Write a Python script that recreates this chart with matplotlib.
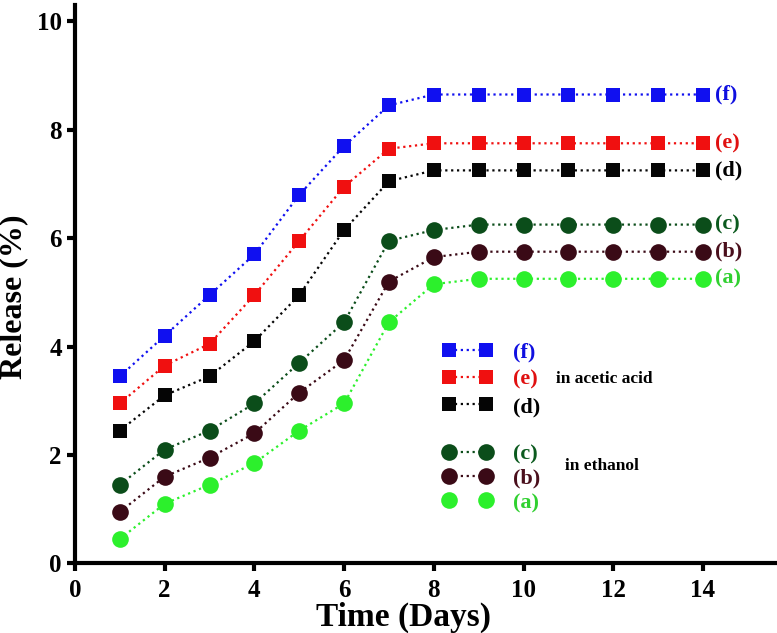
import matplotlib
matplotlib.use("Agg")
import matplotlib.pyplot as plt
from matplotlib.lines import Line2D

plt.rcParams.update({
    'font.family': 'Liberation Serif',
    'font.weight': 'bold',
    'axes.linewidth': 3.0,
    'xtick.major.width': 3.0,
    'ytick.major.width': 3.0,
    'xtick.major.size': 6,
    'ytick.major.size': 6,
})

days = [1, 2, 3, 4, 5, 6, 7, 8, 9, 10, 11, 12, 13, 14]

# acetic acid
rel_f = [3.45, 4.2, 4.95, 5.7, 6.8, 7.7, 8.45, 8.65, 8.65, 8.65, 8.65, 8.65, 8.65, 8.65]
rel_e = [2.95, 3.65, 4.05, 4.95, 5.95, 6.95, 7.65, 7.75, 7.75, 7.75, 7.75, 7.75, 7.75, 7.75]
rel_d = [2.45, 3.1, 3.45, 4.1, 4.95, 6.15, 7.05, 7.25, 7.25, 7.25, 7.25, 7.25, 7.25, 7.25]
# ethanol
rel_c = [1.45, 2.1, 2.45, 2.95, 3.7, 4.45, 5.95, 6.15, 6.25, 6.25, 6.25, 6.25, 6.25, 6.25]
rel_b = [0.95, 1.6, 1.95, 2.4, 3.15, 3.75, 5.2, 5.65, 5.75, 5.75, 5.75, 5.75, 5.75, 5.75]
rel_a = [0.45, 1.1, 1.45, 1.85, 2.45, 2.95, 4.45, 5.15, 5.25, 5.25, 5.25, 5.25, 5.25, 5.25]

labels = ['(f)', '(e)', '(d)', '(c)', '(b)', '(a)']
series = [rel_f, rel_e, rel_d, rel_c, rel_b, rel_a]
colors = ['#1010f0', '#f01010', '#050505', '#0b4d1a', '#3a0a16', '#2cf02c']
text_colors = ['#1010e0', '#e01010', '#000000', '#0b5a1e', '#4a0f1c', '#30d030']
markers = ['s', 's', 's', 'o', 'o', 'o']
msizes = [10.5, 10.5, 10.5, 12, 12, 12]

fig = plt.figure(figsize=(7.77, 6.33), dpi=100)
ax = fig.add_axes([0.0965, 0.11, 0.9035, 0.882])

for vals, col, tcol, mk, ms, lab in zip(series, colors, text_colors, markers, msizes, labels):
    ax.plot(days, vals, linestyle=':', linewidth=1.6, color=col,
            marker=mk, markersize=ms, markeredgewidth=0)
    ax.annotate(lab, (days[-1], vals[-1]), xytext=(9, 0),
                textcoords='offset points', va='center', ha='left',
                color=tcol, fontsize=16, fontweight='bold')

ax.set_xlim(0, 15.65)
ax.set_ylim(0, 10.3)
ax.set_xticks([0, 2, 4, 6, 8, 10, 12, 14])
ax.set_yticks([0, 2, 4, 6, 8, 10])
ax.tick_params(labelsize=18)
ax.tick_params(axis='x', pad=5)
for t in ax.get_xticklabels() + ax.get_yticklabels():
    t.set_fontweight('bold')

ax.spines['top'].set_visible(False)
ax.spines['right'].set_visible(False)

ax.set_xlabel('Time (Days)', fontsize=24, fontweight='bold')
ax.xaxis.set_label_coords(0.468, -0.068)
ax.set_ylabel('Release (%)', fontsize=23, fontweight='bold')
ax.yaxis.set_label_coords(-0.066, 0.478)

def handles(idx):
    out = []
    for i in idx:
        ls = ':' if i != 5 else 'none'
        out.append(Line2D([], [], linestyle=ls, linewidth=1.6, color=colors[i],
                          marker=markers[i], markersize=msizes[i], markeredgewidth=0))
    return out

leg_kw = dict(loc='upper left', frameon=False, numpoints=2,
              handlelength=2.28, handletextpad=0.9,
              prop={'size': 16, 'weight': 'bold'})

leg1 = ax.legend(handles(range(3)), labels[:3], bbox_to_anchor=(0.495, 0.432),
                 labelspacing=0.3, **leg_kw)
for t, c in zip(leg1.get_texts(), text_colors[:3]):
    t.set_color(c)
ax.add_artist(leg1)

leg2 = ax.legend(handles(range(3, 6)), labels[3:], bbox_to_anchor=(0.495, 0.25),
                 labelspacing=0.17, **leg_kw)
for t, c in zip(leg2.get_texts(), text_colors[3:]):
    t.set_color(c)

fig.text(0.715, 0.402, 'in acetic acid', fontsize=12.5, fontweight='bold', va='center')
fig.text(0.727, 0.264, 'in ethanol', fontsize=12.5, fontweight='bold', va='center')

fig.savefig('out.png', dpi=100)
